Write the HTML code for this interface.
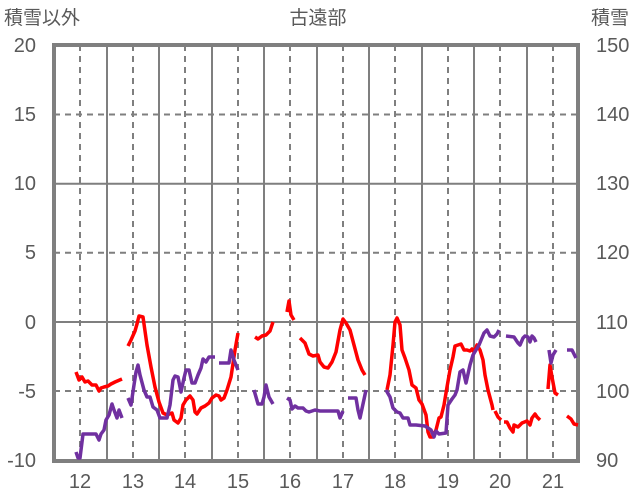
<!DOCTYPE html>
<html><head><meta charset="utf-8"><style>
body{margin:0;background:#fff;}
svg{display:block;font-family:"Liberation Sans","Noto Sans CJK JP",sans-serif;}
</style></head><body>
<svg width="636" height="501" viewBox="0 0 636 501">
<g stroke="#7f7f7f" stroke-width="2" fill="none">
<line x1="54" y1="183.7" x2="578" y2="183.7"/>
<line x1="54" y1="322" x2="578" y2="322"/>
<g stroke-dasharray="6,5">
<line x1="54" y1="114.5" x2="578" y2="114.5"/>
<line x1="54" y1="252.8" x2="578" y2="252.8"/>
<line x1="54" y1="391" x2="578" y2="391"/>
<line x1="80" y1="45" x2="80" y2="460"/><line x1="133" y1="45" x2="133" y2="460"/><line x1="185" y1="45" x2="185" y2="460"/><line x1="238" y1="45" x2="238" y2="460"/><line x1="290" y1="45" x2="290" y2="460"/><line x1="343" y1="45" x2="343" y2="460"/><line x1="395" y1="45" x2="395" y2="460"/><line x1="448" y1="45" x2="448" y2="460"/><line x1="500" y1="45" x2="500" y2="460"/><line x1="553" y1="45" x2="553" y2="460"/>
</g>
<line x1="107" y1="45" x2="107" y2="460"/><line x1="159" y1="45" x2="159" y2="460"/><line x1="212" y1="45" x2="212" y2="460"/><line x1="264" y1="45" x2="264" y2="460"/><line x1="317" y1="45" x2="317" y2="460"/><line x1="369" y1="45" x2="369" y2="460"/><line x1="422" y1="45" x2="422" y2="460"/><line x1="474" y1="45" x2="474" y2="460"/><line x1="527" y1="45" x2="527" y2="460"/>
</g>
<rect x="54" y="45" width="524" height="416" fill="none" stroke="#7f7f7f" stroke-width="4"/>
<g fill="none" stroke="#ff0000" stroke-width="3.5" stroke-linejoin="round">
<polyline points="76,372 79,380 82,377 85,382 88,381 92,385 96,385 99,391 101,388 104,387 108,386 111,384 115,382 122,379"/>
<polyline points="128,346 131,340 135,331 137,324 139,316 143,317 147,345 151,367 155,387 159,402 163,413 167,415 172,413 174,420 178,423 181,418 183,405 186,400 190,396 193,400 195,412 197,414 201,408 205,406 209,403 212,398 216,395 219,396 221,400 224,398 227,390 231,377 235,350 238,333"/>
<polyline points="255,337 258,339 262,336 266,335 270,331 273,322"/>
<polyline points="287,312 289,301 291,315 294,320"/>
<polyline points="300,338 305,343 309,354 313,356 318,355 320,362 324,367 328,368 332,362 336,352 340,330 343,319 346,323 350,330 354,345 358,360 362,370 365,375"/>
<polyline points="387,390 390,375 393,345 395,322 397,318 400,325 402,350 405,358 409,370 412,385 416,388 419,400 422,404 426,415 428,432 430,437 433,437 436,430 439,418 441,417 444,405 447,387 450,370 453,357 455,346 458,345 461,344 464,350 467,350 470,351 472,349 474,352 477,345 480,350 483,360 485,375 488,390 492,405 493,410"/>
<polyline points="495,411 498,417 501,420"/>
<polyline points="504,422 507,422 510,428 513,432 514,425 518,427 522,423 527,421 530,425 532,418 535,414 537,417 540,420"/>
<polyline points="548,389 550,365 552,377 555,393 558,395"/>
<polyline points="567,416 571,419 574,424 578,425"/>
</g>
<g fill="none" stroke="#7030a0" stroke-width="3.5" stroke-linejoin="round">
<polyline points="76,452 78,458 80,458 83,434 96,434 99,440 101,434 104,430 106,420 109,415 112,404 114,410 117,418 119,410 122,418"/>
<polyline points="128,398 131,405 134,385 136,372 138,365 140,375 144,390 147,397 150,397 153,407 157,410 160,418 164,418 167,418 170,405 173,380 175,376 178,377 180,387 181,392 184,378 186,370 189,370 192,383 195,383 198,375 201,368 203,359 206,362 209,357 212,357 215,357"/>
<polyline points="219,363 229,363 231,350 234,360 238,370"/>
<polyline points="254,390 258,404 262,404 264,397 266,385 269,397 273,404"/>
<polyline points="287,398 290,400 292,409 295,406 298,408 303,408 306,411 309,412 315,410 320,411 338,411 340,418 343,411"/>
<polyline points="348,398 356,398 358,410 360,418 363,404 366,390"/>
<polyline points="386,390 390,397 393,408 397,412 400,413 403,418 408,418 410,425 416,425 425,426 428,428 431,430 434,437 436,431 439,434 446,433 448,405 452,399 455,395 457,390 460,372 463,370 466,383 470,365 473,355 476,350 479,345 484,333 487,330 490,336 494,337 497,334 499,330"/>
<polyline points="506,336 514,337 518,343 520,345 523,338 525,336 528,337 530,342 532,336 534,338 536,342"/>
<polyline points="549,350 551,363 553,355 556,350"/>
<polyline points="567,350 572,350 576,358"/>
</g>
<g fill="#595959" font-size="20">
<g text-anchor="end">
<text x="36" y="52">20</text><text x="36" y="121">15</text><text x="36" y="190">10</text><text x="36" y="259">5</text><text x="36" y="329">0</text><text x="36" y="398">-5</text><text x="36" y="467">-10</text>
</g>
<g text-anchor="start">
<text x="596" y="52">150</text><text x="596" y="190">130</text><text x="596" y="259">120</text><text x="596" y="121">140</text><text x="596" y="329">110</text><text x="596" y="398">100</text><text x="596" y="467">90</text>
</g>
<g text-anchor="middle">
<text x="80" y="488">12</text><text x="133" y="488">13</text><text x="185" y="488">14</text><text x="238" y="488">15</text><text x="290" y="488">16</text><text x="343" y="488">17</text><text x="395" y="488">18</text><text x="448" y="488">19</text><text x="500" y="488">20</text><text x="553" y="488">21</text>
</g>
<text x="4" y="24" font-size="19">積雪以外</text>
<text x="318" y="24" font-size="19" text-anchor="middle">古遠部</text>
<text x="591" y="24" font-size="19">積雪</text>
</g>
</svg>
</body></html>
